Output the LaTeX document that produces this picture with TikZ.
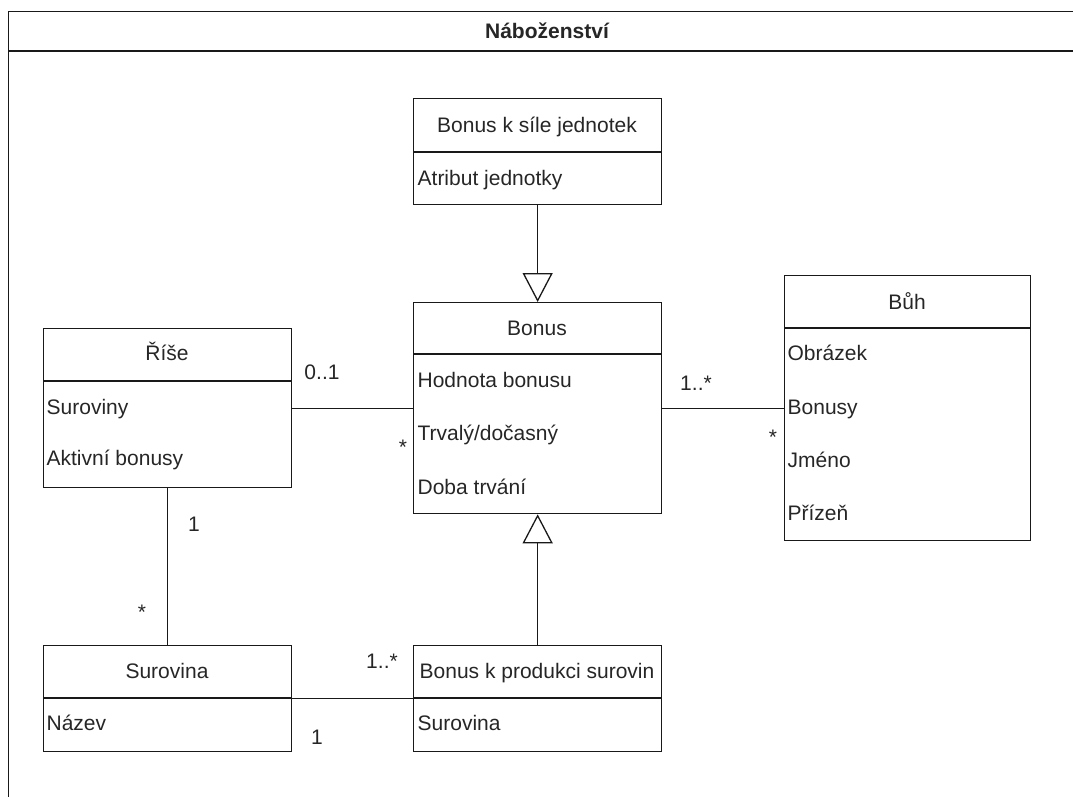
\documentclass[tikz,border=0pt]{standalone}
\usepackage{fontspec}
\setmainfont{Liberation Sans}
\usetikzlibrary{arrows.meta}
\begin{document}
\begin{tikzpicture}[x=1pt,y=-1pt,
  line width=1.3pt,
  classbox/.style={draw=black!90, rectangle, inner sep=0pt, anchor=north west},
  txt/.style={font=\fontsize{21}{25}\selectfont, text=black!85, inner sep=0pt, anchor=base},
  attr/.style={txt, anchor=base west},
  mult/.style={txt},
  assoc/.style={draw=black!90},
  gen/.style={draw=black!90, -{Triangle[open, length=29pt, width=30pt, line width=1.3pt]}}
]
\useasboundingbox (0,0) rectangle (1073,796);
\clip (0,0) rectangle (1073,796);

% package frame with its heading bar
\node[classbox, minimum width=1100pt, minimum height=820pt] (pkg) at (8,10.5) {};
\draw[black!90] (pkg.west |- 0,51) -- (pkg.east |- 0,51);
\node[txt, font=\fontsize{21}{25}\selectfont\bfseries] (pkg-t) at (547,38.5) {Náboženství};

% classes
\node[classbox, minimum width=248pt, minimum height=106pt] (sila) at (413,98) {};
\draw[black!90] (sila.west |- 0,152) -- (sila.east |- 0,152);
\node[txt] (sila-t) at (537,132.5) {Bonus k síle jednotek};
\node[attr] (sila-a1) at (417,185.5) {Atribut jednotky};

\node[classbox, minimum width=248pt, minimum height=211pt] (bonus) at (413,302) {};
\draw[black!90] (bonus.west |- 0,354) -- (bonus.east |- 0,354);
\node[txt] (bonus-t) at (537,335) {Bonus};
\node[attr] (bonus-a1) at (417,387.5) {Hodnota bonusu};
\node[attr] (bonus-a2) at (417,440.5) {Trvalý/dočasný};
\node[attr] (bonus-a3) at (417,494.5) {Doba trvání};

\node[classbox, minimum width=248pt, minimum height=159pt] (rise) at (43,328) {};
\draw[black!90] (rise.west |- 0,381) -- (rise.east |- 0,381);
\node[txt] (rise-t) at (167,360) {Říše};
\node[attr] (rise-a1) at (46,414.5) {Suroviny};
\node[attr] (rise-a2) at (46,465.5) {Aktivní bonusy};

\node[classbox, minimum width=246pt, minimum height=265pt] (buh) at (784,275) {};
\draw[black!90] (buh.west |- 0,328) -- (buh.east |- 0,328);
\node[txt] (buh-t) at (907,309) {Bůh};
\node[attr] (buh-a1) at (787,360.5) {Obrázek};
\node[attr] (buh-a2) at (787,414.5) {Bonusy};
\node[attr] (buh-a3) at (787,467.5) {Jméno};
\node[attr] (buh-a4) at (787,520.5) {Přízeň};

\node[classbox, minimum width=248pt, minimum height=106pt] (surovina) at (43,645) {};
\draw[black!90] (surovina.west |- 0,698) -- (surovina.east |- 0,698);
\node[txt] (surovina-t) at (167,678.5) {Surovina};
\node[attr] (surovina-a1) at (46,730.5) {Název};

\node[classbox, minimum width=248pt, minimum height=106pt] (produkce) at (413,645) {};
\draw[black!90] (produkce.west |- 0,698) -- (produkce.east |- 0,698);
\node[txt] (produkce-t) at (537,678.5) {Bonus k produkci surovin};
\node[attr] (produkce-a1) at (417,730.5) {Surovina};

% generalizations
\draw[gen] (sila) -- (bonus);
\draw[gen] (produkce) -- (bonus);

% associations
\draw[assoc] (rise) -- (bonus);
\draw[assoc] (bonus) -- (buh);
\draw[assoc] (rise) -- (surovina);
\draw[assoc] (surovina) -- (produkce);

% multiplicities
\node[mult] (m1) at (322,379.5) {0..1};
\node[mult] (m2) at (403,454) {*};
\node[mult] (m3) at (696,390.5) {1..*};
\node[mult] (m4) at (773,444) {*};
\node[mult] (m5) at (194,531.5) {1};
\node[mult] (m6) at (142,619) {*};
\node[mult] (m7) at (382,668.5) {1..*};
\node[mult] (m8) at (317,744.5) {1};
\end{tikzpicture}
\end{document}
